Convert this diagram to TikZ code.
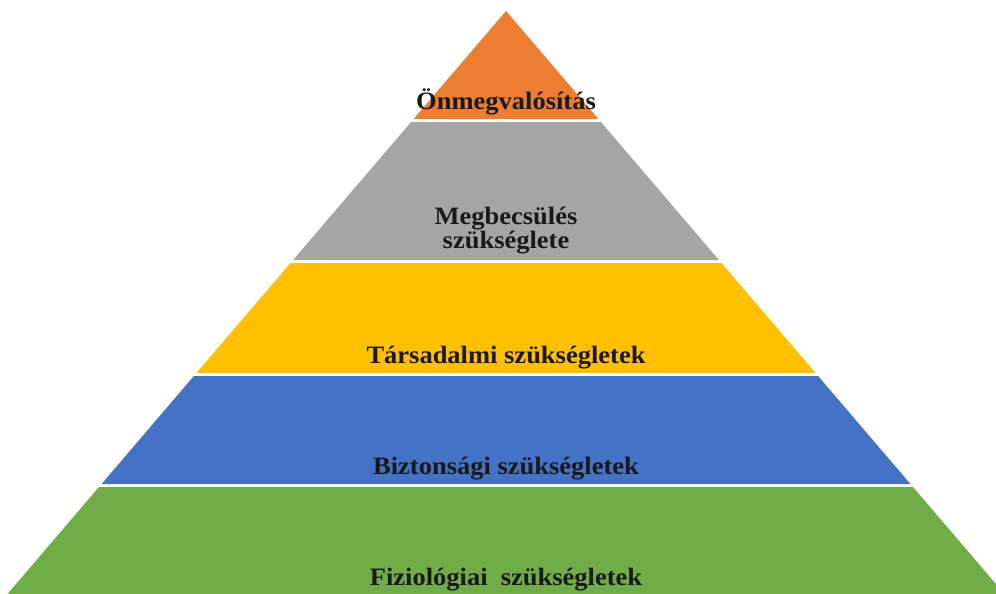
\documentclass[tikz,border=0pt]{standalone}
\usepackage{fontspec}
\setmainfont{Liberation Serif}[FakeStretch=1.06]
\definecolor{cOrange}{HTML}{ED7D31}
\definecolor{cGray}{HTML}{A5A5A5}
\definecolor{cYellow}{HTML}{FFC000}
\definecolor{cBlue}{HTML}{4472C4}
\definecolor{cGreen}{HTML}{70AD47}
\newcommand{\pyrlayer}[3]{%
  \fill[#3] ({506-0.855*(#1-11)},#1) -- ({506+0.855*(#1-11)},#1) --
    ({506+0.855*(#2-11)},#2) -- ({506-0.855*(#2-11)},#2) -- cycle;}
\tikzset{lbl/.style={anchor=base, inner sep=0pt, align=center,
  font=\fontsize{25}{23.5}\selectfont\bfseries, text=black!90}}
\begin{document}
\begin{tikzpicture}[x=1pt,y=-1pt]
\useasboundingbox (0,0) rectangle (996,594);
\clip (0,0) rectangle (996,594);
\fill[white] (0,0) rectangle (996,594);
\pyrlayer{11}{119}{cOrange}
\pyrlayer{122}{260}{cGray}
\pyrlayer{263}{373}{cYellow}
\pyrlayer{376}{484}{cBlue}
\pyrlayer{487}{620}{cGreen}
\node[lbl] (l1) at (506,110) {Önmegvalósítás};
\node[lbl] (l2) at (506,248) {Megbecsülés\\szükséglete};
\node[lbl] (l3) at (506,363) {Társadalmi szükségletek};
\node[lbl] (l4) at (506,474) {Biztonsági szükségletek};
\node[lbl] (l5) at (506,585) {Fiziológiai\ \ szükségletek};
\end{tikzpicture}
\end{document}
